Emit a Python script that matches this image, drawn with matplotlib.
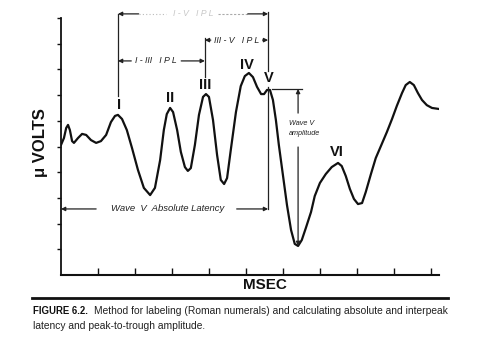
import matplotlib
matplotlib.use("Agg")
import matplotlib.pyplot as plt
from matplotlib.lines import Line2D

plt.rcParams['font.family'] = ['Liberation Sans', 'DejaVu Sans']

# waveform (time in msec divisions, amplitude in arbitrary microvolt units)
msec = [0.00, 0.08, 0.14, 0.19, 0.24, 0.30, 0.35, 0.46, 0.57, 0.68, 0.81, 0.95,
        1.08, 1.22, 1.35, 1.46, 1.54, 1.65, 1.78, 1.92, 2.08, 2.24, 2.41, 2.54,
        2.68, 2.78, 2.86, 2.95, 3.03, 3.14, 3.24, 3.35, 3.43, 3.51, 3.62, 3.73,
        3.84, 3.92, 4.00, 4.11, 4.22, 4.32, 4.41, 4.49, 4.59, 4.73, 4.86, 4.97,
        5.08, 5.19, 5.30, 5.41, 5.49, 5.57, 5.65, 5.73, 5.81, 5.89, 6.00, 6.11,
        6.22, 6.32, 6.41, 6.51, 6.62, 6.76, 6.86, 7.00, 7.16, 7.32, 7.49, 7.59,
        7.70, 7.81, 7.92, 8.03, 8.14, 8.24, 8.38, 8.51, 8.65, 8.81, 8.95, 9.08,
        9.22, 9.32, 9.43, 9.54, 9.65, 9.76, 9.89, 10.03, 10.22]
uvolts = [5.06, 5.33, 5.72, 5.84, 5.64, 5.21, 5.14, 5.33, 5.49, 5.45, 5.25, 5.14,
          5.21, 5.45, 5.95, 6.19, 6.23, 6.07, 5.64, 4.94, 4.09, 3.39, 3.11, 3.39,
          4.47, 5.64, 6.26, 6.50, 6.34, 5.64, 4.79, 4.20, 4.05, 4.16, 5.06, 6.23,
          6.93, 7.04, 6.93, 6.03, 4.67, 3.70, 3.54, 3.77, 4.86, 6.34, 7.35, 7.74,
          7.86, 7.70, 7.32, 7.04, 7.04, 7.20, 7.20, 6.81, 6.03, 5.06, 3.89, 2.72,
          1.75, 1.21, 1.13, 1.36, 1.83, 2.45, 3.07, 3.58, 3.93, 4.20, 4.36, 4.24,
          3.85, 3.35, 2.96, 2.76, 2.80, 3.23, 3.93, 4.55, 5.02, 5.56, 6.07, 6.58,
          7.08, 7.39, 7.51, 7.39, 7.08, 6.81, 6.61, 6.50, 6.46]

x_ticks = [1, 2, 3, 4, 5, 6, 7, 8, 9, 10]
y_ticks = [1, 2, 3, 4, 5, 6, 7, 8, 9, 10]

wave_labels = ['I', 'II', 'III', 'IV', 'V', 'VI']
wave_label_x = [1.57, 2.95, 3.89, 5.03, 5.62, 7.46]
wave_label_y = [6.61, 6.89, 7.39, 8.17, 7.67, 4.79]

fig = plt.figure(figsize=(4.95, 3.41), dpi=100)
ax = fig.add_axes([61/495, 66/341, (439-61)/495, (275-18)/341])
ax.plot(msec, uvolts, color='#111111', lw=1.6, solid_joinstyle='round')
ax.set_xlim(0, 10.22)
ax.set_ylim(0, 10)
ax.set_xticks(x_ticks)
ax.set_yticks(y_ticks)
ax.set_xticklabels([])
ax.set_yticklabels([])
ax.tick_params(axis='x', direction='in', length=5, width=1.0, color='#111111')
ax.tick_params(axis='y', direction='out', length=3, width=1.0, color='#111111')
for s in ['top', 'right']:
    ax.spines[s].set_visible(False)
ax.spines['left'].set_linewidth(1.3)
ax.spines['bottom'].set_linewidth(1.5)
ax.spines['left'].set_color('#111111')
ax.spines['bottom'].set_color('#111111')

for lab, lx, ly in zip(wave_labels, wave_label_x, wave_label_y):
    ax.text(lx, ly, lab, ha='center', va='center', fontsize=10.5,
            fontweight='bold', color='#111111')

lc = '#222222'
lkw = dict(color=lc, lw=0.9, clip_on=False)

def arrow(x0, y0, x1, y1, style='-|>'):
    ax.annotate('', xy=(x1, y1), xytext=(x0, y0),
                arrowprops=dict(arrowstyle=style, color=lc, lw=0.9,
                                mutation_scale=6, shrinkA=0, shrinkB=0),
                annotation_clip=False)

# vertical reference lines
ax.plot([1.54, 1.54], [10.16, 6.95], **lkw)
ax.plot([3.89, 3.89], [9.22, 7.70], **lkw)
ax.plot([5.60, 5.60], [10.23, 7.92], **lkw)
ax.plot([5.60, 5.60], [7.30, 2.57], **lkw)

# I-V IPL (faded in the scan)
arrow(2.10, 10.16, 1.54, 10.16)
ax.plot([2.10, 2.85], [10.16, 10.16], color='#bbbbbb', lw=0.8, ls=(0, (1, 2)), clip_on=False)
ax.text(3.57, 10.16, 'I - V   I P L', ha='center', va='center', fontsize=6.3,
        style='italic', color='#c8c8c8')
ax.plot([4.25, 5.05], [10.16, 10.16], color='#aaaaaa', lw=0.8, ls=(0, (2, 1.5)), clip_on=False)
arrow(5.05, 10.16, 5.60, 10.16)

# I-III IPL
arrow(1.90, 8.33, 1.54, 8.33)
ax.text(2.57, 8.33, 'I - III   I P L', ha='center', va='center', fontsize=6.3,
        style='italic', color=lc)
arrow(3.25, 8.33, 3.89, 8.33)

# III-V IPL
arrow(4.05, 9.14, 3.89, 9.14)
ax.text(4.75, 9.14, 'III - V   I P L', ha='center', va='center', fontsize=6.3,
        style='italic', color=lc)
arrow(5.45, 9.14, 5.60, 9.14)

# Wave V absolute latency
arrow(0.95, 2.57, 0.0, 2.57)
ax.text(2.87, 2.57, 'Wave  V  Absolute Latency', ha='center', va='center',
        fontsize=6.8, style='italic', color=lc)
arrow(4.75, 2.57, 5.60, 2.57)

# Wave V amplitude
ax.plot([5.70, 6.52], [7.24, 7.24], **lkw)
arrow(6.41, 6.30, 6.41, 7.24)
arrow(6.41, 4.98, 6.41, 1.13)
ax.text(6.16, 5.91, 'Wave V', ha='left', va='center', fontsize=5.2,
        style='italic', color=lc)
ax.text(6.16, 5.50, 'amplitude', ha='left', va='center', fontsize=5.2,
        style='italic', color=lc)

# axis titles
fig.text(41/495, 1 - 143/341, 'μ VOLTS', rotation=90, ha='center', va='center',
         fontsize=12, fontweight='bold', color='#111111')
fig.text(265/495, 1 - 285/341, 'MSEC', ha='center', va='center',
         fontsize=11, fontweight='bold', color='#111111')

# caption rule and caption
fig.add_artist(Line2D([32/495, 448/495], [1 - 298/341, 1 - 298/341],
                      transform=fig.transFigure, color='#111111', lw=2.0))
fig.text(33/495, 1 - 311/341, 'FIGURE 6.2.', ha='left', va='center',
         fontsize=6.9, fontweight='bold', color='#111111')
fig.text(94/495, 1 - 311/341,
         'Method for labeling (Roman numerals) and calculating absolute and interpeak',
         ha='left', va='center', fontsize=7.35, color='#222222')
fig.text(33/495, 1 - 326/341, 'latency and peak-to-trough amplitude.',
         ha='left', va='center', fontsize=7.35, color='#222222')

fig.savefig('out.png', dpi=100, facecolor='white')
